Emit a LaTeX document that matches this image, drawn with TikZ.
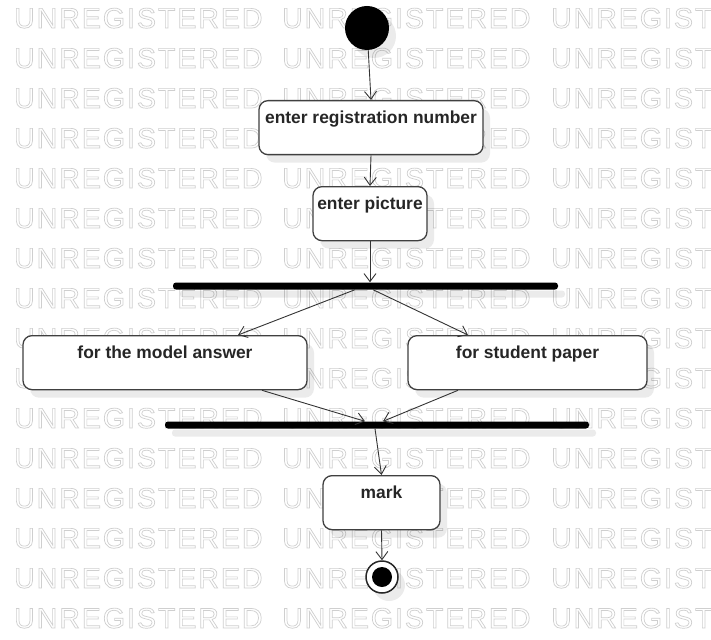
\documentclass[tikz,border=0pt]{standalone}
\usepackage{fontspec}
\setmainfont{Liberation Sans}
\newfontfamily\wmfont[LetterSpace=7]{Liberation Sans}
\usetikzlibrary{arrows.meta,shadows}
\newcommand\wmtext{\special{pdf:code q 1 Tr 0.7 w}UNREGISTERED\special{pdf:code Q}}
\begin{document}
\begin{tikzpicture}[x=1pt,y=-1pt,
  shad/.style={drop shadow={shadow xshift=7pt,shadow yshift=-8pt,fill=black,opacity=0.08}},
  act/.style={draw=black!75,line width=1.3pt,rounded corners=9pt,fill=white,
    font=\fontsize{17.4}{19}\selectfont\bfseries,text=black!85,
    text height=17pt,text depth=25pt,inner ysep=6pt,inner xsep=0pt,anchor=north,shad},
  bar/.style={fill=black,inner sep=0pt,minimum height=7pt,rounded corners=3pt,shad},
  flow/.style={draw=black!80,line width=0.9pt,-{Straight Barb[length=8pt,width=12pt]}},
  wm/.style={font=\wmfont\fontsize{28.5}{30}\selectfont,text=black!19,anchor=base west,inner sep=0pt}]
\useasboundingbox (0,0) rectangle (711,639);
\clip (0,0) rectangle (711,639);
\fill[white] (0,0) rectangle (711,639);
% watermark
\foreach \r in {0,...,15}{
  \foreach \c/\cx in {0/14,1/282,2/551}{
    \node[wm] (wm-\r-\c) at (\cx,{28+40*\r}) {\wmtext};
  }
}
% nodes
\node[circle,fill=black,minimum size=44pt,inner sep=0pt,shad] (init) at (367,28) {};
\node[act,minimum width=224pt] (reg) at (371,100) {enter registration number};
\node[act,minimum width=114pt] (pic) at (370,186) {enter picture};
\node[bar,minimum width=385pt] (fork) at (365.5,286) {};
\node[act,minimum width=284pt] (model) at (165,335) {for the model answer};
\node[act,minimum width=239pt] (student) at (527.5,335) {for student paper};
\node[bar,minimum width=424pt] (join) at (377,425) {};
\node[act,minimum width=117pt] (mark) at (381.5,475) {mark};
\node[circle,draw=black!85,line width=1.5pt,fill=white,minimum size=32pt,inner sep=0pt,shad] (final) at (382,577) {};
\node[circle,fill=black,minimum size=20pt,inner sep=0pt] (finalin) at (final.center) {};
% connectors
\draw[flow] (init) -- (reg.north);
\draw[flow] (reg.south) -- (pic.north);
\draw[flow] (pic.south) -- (pic.south |- fork.north);
\draw[flow] ([xshift=-10.5pt]fork.south) -- ([xshift=73pt]model.north);
\draw[flow] ([xshift=7.5pt]fork.south) -- ([xshift=-59.5pt]student.north);
\draw[flow] ([xshift=97pt]model.south) -- ([xshift=-12pt]join.north);
\draw[flow] ([xshift=-69.5pt]student.south) -- ([xshift=6pt]join.north);
\draw[flow] ([xshift=-2pt]join.south) -- (mark.north);
\draw[flow] (mark.south) -- (final.north);
\end{tikzpicture}
\end{document}
